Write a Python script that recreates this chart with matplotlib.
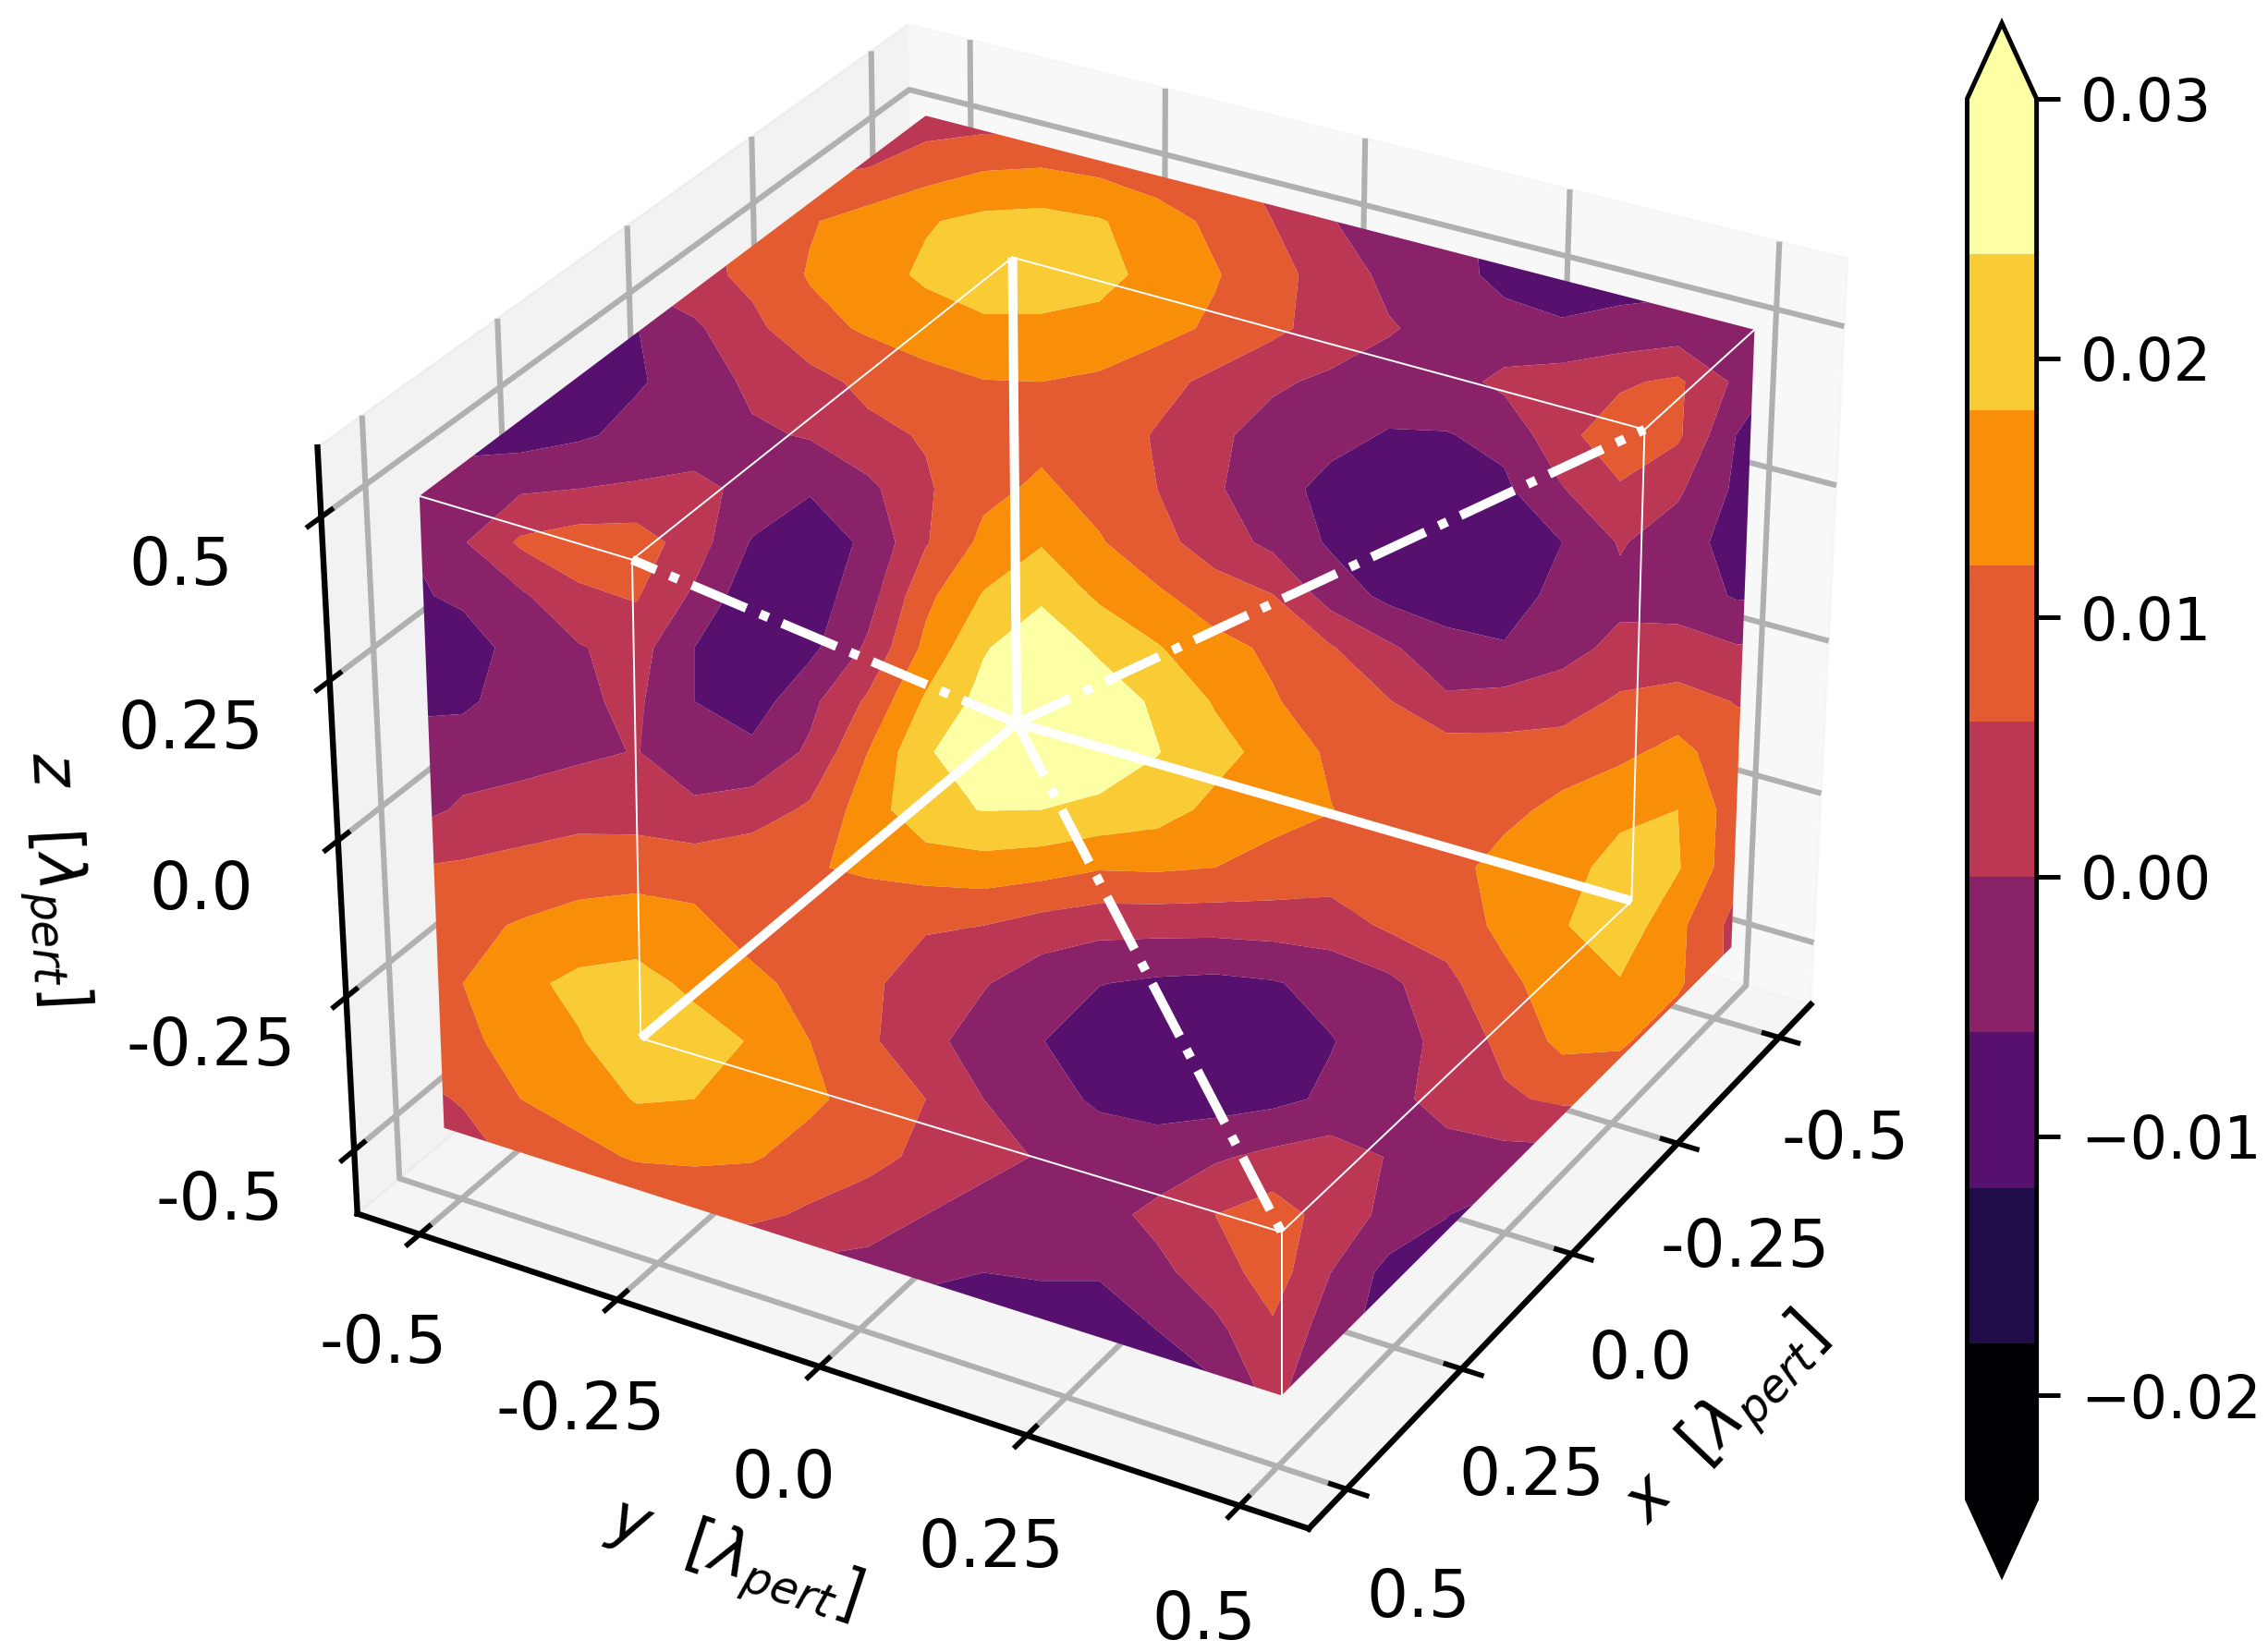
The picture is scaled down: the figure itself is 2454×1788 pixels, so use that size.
import numpy as np
import matplotlib
matplotlib.use("Agg")
import matplotlib.pyplot as plt
from matplotlib.patches import Polygon

# Field (values in 1e-3), on a sheet in image coordinates
grid_x = [280,320,360,400,440,480,520,560,600,640,680,720,760,800,840,880,920,960,1000,1040,1080,1120,1160,1200,1240]
grid_y = [80,116,153,190,227,264,301,338,375,412,448,485,520,560,600,640,680,720,760,800,840,880,920,960,1000]
field = [
[3,3,3,3,3,3,3,3,3,3,3,3,3,3,3,3,3,3,3,3,3,3,3,3,3],
[5,5,5,5,5,5,5,5,6,9,11.5,12,10.5,8,7,5,1,-3,-5,-7,-8,-8,-8,-8,-8],
[4,4,4,4,4,4,8,11.5,14.5,17.5,19.5,20,18.5,15,10.5,6,0.3,-3,-5,-7,-8,-8,-8,-8,-8],
[-1,-1,-1,-1,2,4,7.5,12.5,15.5,19,22,22,20,16,12.5,8,3.5,-1.5,-4,-7.5,-8,-8,-8,-8,-8],
[-6,-6,-7,-7,-6.2,-1,4.5,10,12.8,15,16.5,16.5,16,14,11,7.5,3.2,0.5,-2,-4,-5.5,-4.5,-3.5,-1,-1],
[-9,-9,-9,-9,-6.5,-4,1.5,4,7.5,10,11.8,12,11,8,4.5,0.8,-1,-2.5,-2.5,1.5,3,5.2,7,-1,-9],
[-8,-8,-8.5,-6.8,-4.5,-3,-1,0.5,4.5,6.5,9,10.5,9,5.5,1,-2,-4,-6.5,-6.3,-4.5,4.5,9,7,-6,-9],
[-4,-3,-0.8,0,0.8,1.5,-1.5,-5.5,-1.5,5.2,10.5,13,10,6,0.7,-3.5,-8,-9,-9,-7,-0.3,5.5,1,-7,-9],
[-6,-0.5,7,9,9,3,-6.5,-9,-5,5.5,13.5,17.5,12.5,8,3,-1.5,-6.8,-9,-9.5,-9,-6,0.5,-3,-8.5,-9],
[-7,-5,-1,5,6.5,-1,-10,-9,-2.5,10.5,18.5,23,17,13,9,6.2,-2.5,-7.5,-9,-9,-4,-1.5,-3,-6.5,-7],
[-9,-8.5,-4,-0.5,2.5,-6,-9.5,-7.5,1,13.5,23.5,28,23,18.5,13.8,11,6.5,1,-4,-5.5,-2,1.5,2.5,0.5,0],
[-7,-7,-3.5,-0.8,1,-6,-9,-1.5,7,19,26,28,27.5,23,17.5,12.5,9,6.3,1,2,3,7,8,5.8,5],
[-4,-3,-2.5,-1,0.2,-3,-4.5,1,12,23.5,27,28,28,24.3,20,16,11,9.5,9,8.5,9,10.5,14,8,7],
[-3,1,2.5,3.5,3,1,3,7,15,22.5,24.2,24,22.5,20.5,16.5,13.5,12.2,9,8.5,10.5,13.5,17,18,9,8],
[6,6.8,8,9.5,10,9.5,10.5,11.5,13,14.5,15.5,14.5,12.5,12.8,12,10.5,9,9,10,14,16.5,19.5,18.5,8,8],
[9,10.5,12.5,14,14.5,13.5,9.5,8,7.5,6.5,6,3.5,2,2,2,2.5,3,7,8.5,13.5,17.5,22,13.5,4,4],
[9,12,16.5,19.5,20.5,16.5,13.5,10,7,3.5,0.5,-3.5,-5.8,-7,-7.5,-6.5,-4,-1.5,4.5,10.5,15,17.5,13,4,4],
[8,10.5,14.5,17.5,22,21,17.5,12,7,2,-3,-5.8,-9.5,-10,-10,-9.5,-6.3,-3,2,7.5,13.5,13,8,3,3],
[4,6.5,12,14,18.5,18,15.5,13,10,6,0,-3.5,-7,-8,-8.5,-7.5,-5,-2,2.5,5.2,7,7,7,3,3],
[3,3.5,7.5,10.5,12.5,13,12.5,10,8,4.5,2,-0.5,-2.5,-3.5,-0.8,1.5,3,-0.3,-2.5,-2,-2,-2,-2,-2,-2],
[7,7,7,7,7,7,7.5,5,2.5,0,-2.5,-3.5,-2,1.5,6,9,3.5,-1.5,-5.8,-9,-9,-9,-9,-9,-9],
[-2,-2,-2,-2,-2,-2,-2,-2,-2,-5,-6,-5.5,-5.5,-1.5,3,9,0,-8,-9,-9,-9,-9,-9,-9,-9],
[-9,-9,-9,-9,-9,-9,-9,-9,-9,-9,-9,-9,-9,-6,-1.5,5,-3,-9,-9,-9,-9,-9,-9,-9,-9],
[-9,-9,-9,-9,-9,-9,-9,-9,-9,-9,-9,-9,-9,-9,-7,3,-8,-9,-9,-9,-9,-9,-9,-9,-9],
[-9,-9,-9,-9,-9,-9,-9,-9,-9,-9,-9,-9,-9,-9,-7,3,-8,-9,-9,-9,-9,-9,-9,-9,-9],
]
levels = [-0.024,-0.018,-0.012,-0.006,0.0,0.006,0.012,0.018,0.024,0.03]
cbar_ticks = [-0.02,-0.01,0.0,0.01,0.02,0.03]
tick_vals = [-0.5,-0.25,0.0,0.25,0.5]
tick_labels = ["-0.5","-0.25","0.0","0.25","0.5"]

# outline of the coloured solid and of the white wire cube, image coordinates
solid_outline = [(640,80),(1213,228),(1197,655),(886,965),(307,780),(290,343)]
centre = (703,500)
solid_ends = [(700,178),(1128,623),(443,718)]
dash_ends = [(1137,297),(437,387),(886,852)]
wire_path = [(700,178),(1137,297),(1128,623),(886,852),(443,718),(437,387),(700,178)]
corner_spokes = [((1137,297),(1213,228)),((437,387),(290,343)),((886,852),(886,965))]

W, H = 1568.0, 1142.4
plt.rcParams["font.family"] = "DejaVu Sans"
plt.rcParams["mathtext.fontset"] = "dejavusans"
plt.rcParams["grid.linewidth"] = 2.2
plt.rcParams["axes.linewidth"] = 2.3
plt.rcParams["xtick.major.width"] = 2.0
plt.rcParams["ytick.major.width"] = 2.0
fig = plt.figure(figsize=(12.27, 8.94), dpi=200)

ax = fig.add_axes([0.100, 0.065, 0.75, 0.95], projection="3d")
ax.view_init(elev=30, azim=30)
ax.set_box_aspect((1, 1, 0.8), zoom=1.096)
ax.set_xlim(-0.58, 0.58); ax.set_ylim(-0.58, 0.58); ax.set_zlim(-0.605, 0.605)
for axis in (ax.xaxis, ax.yaxis, ax.zaxis):
    axis.set_ticks(tick_vals)
    axis.set_ticklabels(tick_labels, fontsize=25.5)
    axis._axinfo["tick"]["inward_factor"] = 0.25
    axis._axinfo["tick"]["outward_factor"] = 0.2
ax.tick_params(axis="x", pad=15)
ax.tick_params(axis="y", pad=12)
ax.tick_params(axis="z", pad=20)
ax.set_xlabel(r"$x\ \ [\lambda_{pert}]$", fontsize=25, labelpad=31)
ax.set_ylabel(r"$y\ \ [\lambda_{pert}]$", fontsize=25, labelpad=27)
ax.set_zlabel(r"$z\ \ [\lambda_{pert}]$", fontsize=25, labelpad=37)

band_colors = [plt.get_cmap("inferno")(i / 8) for i in [0,0,1,2,3,4,5,6,7,8,8]]
sheet = fig.add_axes([0, 0, 1, 1], facecolor="none")
sheet.set_xlim(0, W); sheet.set_ylim(H, 0); sheet.axis("off")
cs = sheet.contourf(grid_x, grid_y, np.array(field) * 1e-3, levels=levels,
                    colors=band_colors, extend="both", antialiased=True)
outline = Polygon(solid_outline, closed=True, transform=sheet.transData,
                  facecolor="none", edgecolor="none")
sheet.add_patch(outline)
cs.set_clip_path(outline)
for a, b in corner_spokes:
    sheet.plot([a[0], b[0]], [a[1], b[1]], color="white", lw=0.7)
sheet.plot(*zip(*wire_path), color="white", lw=0.7)
for e in solid_ends:
    sheet.plot([centre[0], e[0]], [centre[1], e[1]], color="white", lw=3.6,
               solid_capstyle="butt")
for e in dash_ends:
    sheet.plot([centre[0], e[0]], [centre[1], e[1]], color="white", lw=3.6,
               linestyle="-.", dash_capstyle="butt")

cax = fig.add_axes([1360 / W, 1 - 1089 / H, 48 / W, 1073 / H])
cb = fig.colorbar(cs, cax=cax, extend="both", extendfrac=0.054, ticks=cbar_ticks)
cb.ax.tick_params(labelsize=23, width=1.8, length=9, pad=8)
cb.outline.set_linewidth(1.8)
cb.ax.set_yticklabels(["\u22120.02", "\u22120.01", "0.00", "0.01", "0.02", "0.03"])

fig.savefig("out.png", dpi=200)
